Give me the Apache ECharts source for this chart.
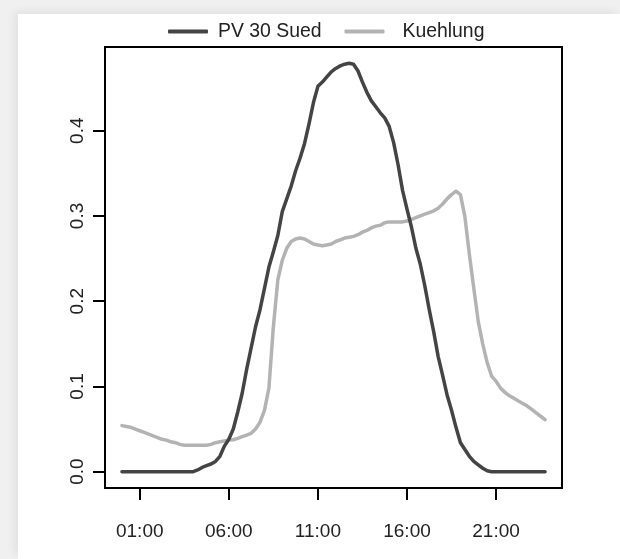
<!DOCTYPE html>
<html>
<head>
<meta charset="utf-8">
<script src="https://cdn.jsdelivr.net/npm/echarts@6/dist/echarts.min.js"></script>
<style>
  html, body { margin: 0; padding: 0; width: 620px; height: 559px; overflow: hidden; background: #f0f0f0; }
  #card { position: absolute; left: 18px; top: 14px; width: 602px; height: 545px; background: #ffffff; box-shadow: -4px -3px 8px rgba(0,0,0,0.06); }
  #chart { position: absolute; left: 0; top: 0; width: 620px; height: 559px; }
</style>
</head>
<body>
<div id="card"></div>
<div id="chart"></div>
<script>
// time in hours (15-minute steps, 00:00 .. 23:45)
const hours = Array.from({length: 96}, (_, i) => i / 4);
const tickHours = [1, 6, 11, 16, 21];
const yTicks = [0, 0.1, 0.2, 0.3, 0.4];
const seriesNames = ['PV 30 Sued', 'Kuehlung'];

const pv = [
  0,0,0,0,0,0,0,0,0,0,0,0,0,0,0,0,
  0,0.002,0.005,0.007,0.009,0.012,0.018,0.030,0.038,0.050,0.070,0.092,
  0.120,0.145,0.170,0.190,0.215,0.240,0.258,0.277,0.305,0.320,0.335,0.353,
  0.368,0.385,0.408,0.433,0.452,0.457,0.463,0.469,0.473,0.476,0.478,0.479,
  0.478,0.470,0.457,0.445,0.435,0.428,0.421,0.415,0.405,0.386,0.360,0.330,
  0.308,0.287,0.262,0.243,0.218,0.190,0.164,0.135,0.113,0.090,0.072,0.052,
  0.034,0.026,0.018,0.012,0.008,0.004,0.001,0,
  0,0,0,0,0,0,0,0,0,0,0,0
];

const kuehlung = [
  0.054,0.053,0.052,0.050,0.048,0.046,0.044,0.042,0.040,0.038,0.037,0.035,
  0.034,0.032,0.031,0.031,0.031,0.031,0.031,0.031,0.032,0.034,0.035,0.036,
  0.037,0.0375,0.039,0.041,0.043,0.045,0.050,0.058,0.072,0.098,0.170,0.225,
  0.248,0.262,0.270,0.273,0.274,0.273,0.270,0.267,0.266,0.265,0.266,0.267,
  0.270,0.272,0.274,0.275,0.276,0.278,0.281,0.283,0.286,0.288,0.289,0.292,
  0.293,0.293,0.293,0.293,0.294,0.296,0.298,0.300,0.302,0.304,0.306,0.309,
  0.314,0.320,0.325,0.329,0.325,0.299,0.255,0.215,0.176,0.150,0.128,0.112,
  0.106,0.098,0.093,0.089,0.086,0.083,0.080,0.077,0.073,0.069,0.065,0.061
];

const colors = ['#444444', '#b3b3b3'];
const font = '"Liberation Sans", Arial, sans-serif';

const xSpan = hours[hours.length - 1] - hours[0];
const xMin = hours[0] - 0.04 * xSpan;
const xMax = hours[hours.length - 1] + 0.04 * xSpan;
const yDataMax = Math.max(...pv, ...kuehlung);
const yMin = 0 - 0.04 * yDataMax;
const yMax = yDataMax + 0.04 * yDataMax;

function pad(n) { return (n < 10 ? '0' : '') + n; }

const chart = echarts.init(document.getElementById('chart'), null, {renderer: 'canvas'});
chart.setOption({
  backgroundColor: 'transparent',
  animation: false,
  color: colors,
  legend: {
    left: 163,
    top: 17,
    itemWidth: 40,
    itemHeight: 4,
    itemGap: 23,
    icon: 'roundRect',
    textStyle: { fontFamily: font, fontSize: 19.4, color: '#222', padding: [0, 0, 0, 5] },
    data: [
      { name: seriesNames[0] },
      { name: seriesNames[1], textStyle: { padding: [0, 0, 0, 13] } }
    ]
  },
  grid: {
    left: 105, top: 47, right: 58, bottom: 71,
    show: true, borderColor: '#000', borderWidth: 2, backgroundColor: 'transparent'
  },
  xAxis: {
    type: 'value',
    min: xMin, max: xMax,
    axisLine: { show: false, onZero: false },
    splitLine: { show: false },
    axisTick: { show: true, inside: false, customValues: tickHours, length: 12, lineStyle: { color: '#000', width: 2 } },
    axisLabel: {
      customValues: tickHours, margin: 34,
      fontFamily: font, fontSize: 19, color: '#222',
      formatter: v => pad(Math.round(v)) + ':00'
    }
  },
  yAxis: {
    type: 'value',
    min: yMin, max: yMax,
    axisLine: { show: false, onZero: false },
    splitLine: { show: false },
    axisTick: { show: true, inside: false, customValues: yTicks, length: 12, lineStyle: { color: '#000', width: 2 } },
    axisLabel: {
      customValues: yTicks, margin: 18, rotate: 90,
      fontFamily: font, fontSize: 19, color: '#222',
      formatter: v => v.toFixed(1)
    }
  },
  series: [
    {
      name: seriesNames[0], type: 'line', showSymbol: false, symbol: 'none',
      lineStyle: { width: 3.5, color: colors[0], cap: 'round', join: 'round' },
      data: hours.map((h, i) => [h, pv[i]]), z: 3
    },
    {
      name: seriesNames[1], type: 'line', showSymbol: false, symbol: 'none',
      lineStyle: { width: 3.5, color: colors[1], cap: 'round', join: 'round' },
      data: hours.map((h, i) => [h, kuehlung[i]]), z: 2
    }
  ]
});
</script>
</body>
</html>
